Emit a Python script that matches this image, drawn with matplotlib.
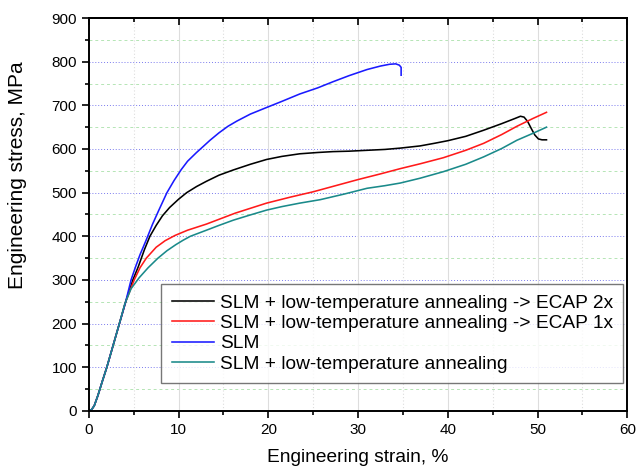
import matplotlib.pyplot as plt
from matplotlib.ticker import MultipleLocator

plt.rcParams['font.family'] = ['Liberation Sans', 'DejaVu Sans']

# strain, % / stress, MPa
toe_x = [0, 0.3, 0.6, 1.0, 1.5, 2.0, 2.7, 3.4, 4.1]
toe_y = [0, 3, 12, 35, 68, 100, 150, 200, 250]

slm_x = toe_x + [4.7, 5.2, 5.7, 6.4, 7.1, 7.8, 8.7, 9.5, 10.3, 11.0, 12.0, 12.7, 13.5, 14.5,
                 15.5, 16.5, 18.0, 19.8, 21.5, 23.5, 25.5, 27.2, 29.0, 31.0, 32.5, 33.5, 34.2,
                 34.6, 34.8, 34.8]
slm_y = toe_y + [300, 330, 358, 392, 428, 460, 500, 528, 553, 572, 592, 605, 620, 637,
                 652, 664, 680, 695, 709, 726, 740, 754, 768, 782, 790, 794, 795,
                 792, 787, 769]

ecap2_x = toe_x + [4.9, 5.5, 6.2, 6.8, 7.5, 8.2, 9.0, 10.0, 10.9, 12.0, 13.1, 14.5, 16.1, 18.0,
                   19.8, 21.5, 23.5, 25.5, 27.2, 29.0, 31.0, 33.0, 34.7, 36.9, 38.5, 40.0, 42.0,
                   44.0, 46.0, 47.5, 48.1, 48.5, 48.9, 49.3, 49.7, 50.1, 50.5, 51.0]
ecap2_y = toe_y + [300, 330, 370, 400, 425, 447, 466, 485, 500, 514, 526, 540, 552, 565,
                   576, 583, 589, 592, 594, 595, 597, 599, 602, 607, 613, 619, 629,
                   643, 658, 670, 675, 673, 663, 647, 632, 623, 621, 621]

ecap1_x = toe_x + [5.05, 5.7, 6.4, 7.5, 8.5, 9.6, 11.0, 13.1, 16.3, 19.8, 22.5, 25.0, 27.5,
                   30.0, 32.5, 34.7, 36.9, 39.5, 42.0, 44.0, 46.0, 47.7, 49.5, 51.0]
ecap1_y = toe_y + [300, 328, 350, 375, 390, 402, 414, 428, 453, 476, 490, 502, 516,
                   530, 543, 555, 566, 580, 597, 613, 633, 652, 670, 684]

ann_x = toe_x[:-1] + [4.0, 4.7, 5.6, 6.6, 7.7, 8.7, 9.7, 10.5, 11.3, 12.2, 13.1, 14.5, 16.1,
                      18.0, 19.8, 21.5, 23.5, 25.8, 28.5, 31.0, 33.0, 34.7, 36.9, 39.5, 42.0,
                      44.0, 46.0, 47.7, 49.5, 51.0]
ann_y = toe_y[:-1] + [245, 280, 305, 328, 350, 367, 381, 391, 400, 407, 414, 425, 437,
                      449, 460, 468, 476, 484, 497, 510, 516, 522, 533, 548, 565,
                      582, 601, 620, 636, 650]

labels = ['SLM + low-temperature annealing -> ECAP 2x',
          'SLM + low-temperature annealing -> ECAP 1x',
          'SLM',
          'SLM + low-temperature annealing']
colors = ['black', '#ff1a1a', '#1a1aff', '#1a8a8a']

fig = plt.figure(figsize=(6.44, 4.74), dpi=100)
ax = fig.add_axes([0.138, 0.133, 0.836, 0.829])

# background grid
for y in range(100, 900, 100):
    ax.axhline(y, color='#7a7aee', lw=0.7, ls=(0, (1, 2)), zorder=0)
for y in range(50, 900, 100):
    ax.axhline(y, color='#b5e5b5', lw=0.7, ls=(0, (3, 3)), zorder=0)
for x in range(10, 60, 10):
    ax.axvline(x, color='#dddddd', lw=0.8, zorder=0)
for x in range(5, 60, 10):
    ax.axvline(x, color='#dddddd', lw=0.8, ls=(0, (1, 2)), zorder=0)

series = [(ecap2_x, ecap2_y), (ecap1_x, ecap1_y), (slm_x, slm_y), (ann_x, ann_y)]
for (xs, ys), c, lab in zip(series, colors, labels):
    ax.plot(xs, ys, color=c, lw=1.15, label=lab, solid_joinstyle='round')

ax.set_xlim(0, 60)
ax.set_ylim(0, 900)
ax.xaxis.set_major_locator(MultipleLocator(10))
ax.xaxis.set_minor_locator(MultipleLocator(5))
ax.yaxis.set_major_locator(MultipleLocator(100))
ax.yaxis.set_minor_locator(MultipleLocator(50))
ax.tick_params(which='both', direction='out', labelsize=11, colors='black', width=1.2)
ax.tick_params(which='major', length=5)
ax.tick_params(which='minor', length=3)
for s in ax.spines.values():
    s.set_linewidth(1.4)

# inward ticks on the top edge
top = ax.secondary_xaxis('top')
top.xaxis.set_major_locator(MultipleLocator(10))
top.xaxis.set_minor_locator(MultipleLocator(5))
top.tick_params(which='both', direction='in', labeltop=False, width=1.2)
top.tick_params(which='major', length=5)
top.tick_params(which='minor', length=3)
top.spines['top'].set_linewidth(1.4)

ax.set_xlabel('Engineering strain, %', fontsize=13.8, labelpad=9)
ax.set_ylabel('Engineering stress, MPa', fontsize=15)
ax.yaxis.set_label_coords(-0.114, 0.60)

leg = ax.legend(loc='lower right', bbox_to_anchor=(0.993, 0.071), borderaxespad=0,
                fontsize=13.8, frameon=True, fancybox=False, edgecolor='#555555',
                handlelength=2.2, handletextpad=0.3, labelspacing=0.15, borderpad=0.55)
leg.get_frame().set_linewidth(1.0)

fig.savefig('out.png', dpi=100)
